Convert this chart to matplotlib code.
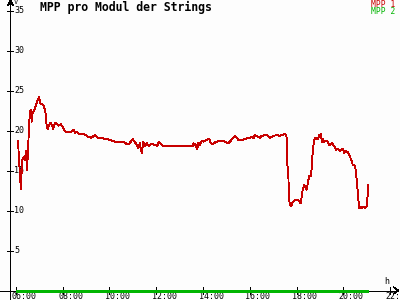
import matplotlib
matplotlib.use("Agg")
import matplotlib.pyplot as plt

title = "MPP pro Modul der Strings"
series_names = ["MPP 1", "MPP 2"]
x_tick_hours = [6, 8, 10, 12, 14, 16, 18, 20, 22]
x_tick_labels = ["06:00", "08:00", "10:00", "12:00", "14:00", "16:00", "18:00", "20:00", "22:"]
y_ticks = [5, 10, 15, 20, 25, 30, 35]

mpp1_hours = [6.10, 6.12, 6.14, 6.16, 6.18, 6.21, 6.24, 6.28, 6.33, 6.38, 6.44, 6.47, 6.51,
              6.56, 6.60, 6.64, 6.68, 6.72, 6.77, 6.82, 6.89, 6.96, 7.00, 7.04, 7.10, 7.18,
              7.25, 7.29, 7.32, 7.37, 7.43, 7.49, 7.55, 7.60, 7.68, 7.75, 7.82, 7.92, 8.02,
              8.10, 8.24, 8.35, 8.46, 8.53, 8.60, 8.68, 8.82, 8.96, 9.10, 9.24, 9.38, 9.53,
              9.67, 9.81, 9.95, 10.10, 10.24, 10.38, 10.52, 10.66, 10.74, 10.85, 10.95, 11.00,
              11.08, 11.17, 11.24, 11.30, 11.38, 11.45, 11.52, 11.60, 11.68, 11.80, 11.95,
              12.05, 12.12, 12.20, 12.30, 12.38, 13.52, 13.56, 13.60, 13.68, 13.76, 13.80,
              13.87, 13.94, 14.02, 14.16, 14.27, 14.32, 14.38, 14.45, 14.58, 14.72, 14.87,
              15.01, 15.08, 15.18, 15.30, 15.37, 15.44, 15.50, 15.72, 15.86, 16.00, 16.08,
              16.15, 16.22, 16.29, 16.43, 16.50, 16.72, 16.86, 17.00, 17.15, 17.29, 17.36,
              17.43, 17.50, 17.57, 17.60, 17.65, 17.67, 17.70, 17.76, 17.81, 17.86, 17.93,
              18.07, 18.12, 18.17, 18.22, 18.26, 18.32, 18.36, 18.43, 18.50, 18.54, 18.60,
              18.64, 18.69, 18.74, 18.79, 18.85, 18.90, 18.97, 19.00, 19.03, 19.08, 19.12,
              19.18, 19.26, 19.32, 19.40, 19.50, 19.60, 19.68, 19.78, 19.85, 19.92, 19.98,
              20.03, 20.10, 20.18, 20.28, 20.35, 20.40, 20.50, 20.54, 20.60, 20.64, 20.67,
              20.71, 20.78, 20.85, 20.92, 20.99, 21.03, 21.06]
mpp1_volts = [18.7, 17.2, 17.0, 15.1, 14.7, 12.7, 14.4, 16.3, 16.7, 16.3, 17.4, 15.1, 16.7,
              20.1, 22.2, 22.6, 21.1, 22.3, 22.4, 22.8, 23.4, 24.0, 24.2, 23.4, 23.3, 23.2,
              22.6, 21.75, 20.5, 20.2, 20.7, 21.0, 20.6, 20.2, 21.0, 20.8, 20.6, 20.8, 20.4,
              19.9, 19.8, 19.75, 20.1, 19.7, 19.8, 19.6, 19.6, 19.5, 19.2, 19.1, 19.45, 19.0,
              19.1, 18.9, 18.9, 18.75, 18.6, 18.5, 18.6, 18.5, 18.3, 18.35, 18.75, 18.9,
              18.6, 18.2, 17.8, 18.4, 17.2, 18.6, 18.0, 18.4, 18.1, 18.3, 18.2,
              18.1, 18.6, 18.3, 18.1, 18.1, 18.1, 18.0, 18.4, 18.2, 17.7, 18.5,
              18.2, 18.7, 18.6, 18.8, 19.0, 18.5, 18.3, 18.4, 18.6, 18.7, 18.7,
              18.5, 18.4, 18.7, 19.1, 19.3, 19.1, 18.85, 18.85, 19.0, 19.1, 19.2,
              19.0, 19.45, 19.3, 19.1, 19.3, 19.5, 19.05, 19.3, 19.45, 19.3, 19.45,
              19.5, 19.6, 19.2, 15.9, 14.25, 11.75, 11.0, 10.5, 10.9, 11.1, 11.3,
              11.35, 11.1, 10.9, 11.75, 12.6, 13.2, 13.0, 12.6, 13.8, 14.3, 14.3,
              15.1, 17.4, 18.6, 19.05, 19.05, 18.9, 19.45, 19.2, 19.6, 18.6, 18.9,
              18.6, 18.7, 18.6, 18.2, 18.4, 18.1, 17.6, 17.7, 17.4, 17.6, 17.7,
              17.2, 17.4, 17.3, 16.75, 16.2, 15.7, 15.6, 14.7, 12.8, 11.3, 10.3,
              10.5, 10.3, 10.5, 10.3, 10.5, 11.7, 13.2]
mpp2_hours = [6.0, 21.05]
mpp2_volts = [0.0, 0.0]

red = "#c80000"
green = "#00b400"

fig = plt.figure(figsize=(4, 3), dpi=100)
fig.patch.set_facecolor("#fdfdfd")
ax = fig.add_axes([0, 0, 1, 1])
ax.set_facecolor("#fdfdfd")
ax.axis("off")

PX_PER_H = 23.4
X0 = 15.8
PX_PER_V = 8.0
Y0 = 290.5

def hx(px):
    return 6 + (px - X0) / PX_PER_H

def vy(py):
    return (Y0 - py) / PX_PER_V

ax.set_xlim(hx(0), hx(400))
ax.set_ylim(vy(300), vy(0))

mono = "DejaVu Sans Mono"
LW = 0.55
kw = dict(color="black", lw=LW, antialiased=False, zorder=2)

# axes lines with arrows
yaxis_x = hx(10.5)
ax.plot([yaxis_x, yaxis_x], [vy(300), vy(1)], **kw)
ax.plot([yaxis_x, hx(8)], [vy(1), vy(5)], **kw)
ax.plot([yaxis_x, hx(13)], [vy(1), vy(5)], **kw)
ax.plot([hx(0), hx(398)], [0, 0], **kw)
ax.plot([hx(398), hx(394)], [0, vy(Y0 - 3)], **kw)
ax.plot([hx(398), hx(394)], [0, vy(Y0 + 3)], **kw)

# y ticks
for v in y_ticks:
    ax.plot([hx(7.5), hx(13.5)], [v, v], **kw)
    ax.text(hx(14), v, str(v), fontsize=6.0, family=mono, ha="left", va="center")
ax.text(hx(14), vy(2.5), "V", fontsize=5.0, family=mono, ha="left", va="center")

# x ticks
for h, lab in zip(x_tick_hours, x_tick_labels):
    ax.plot([h, h], [vy(Y0 - 3.5), vy(Y0 + 3.5)], **kw)
    ax.text(h - 4.5 / PX_PER_H, vy(292), lab, fontsize=6.0, family=mono,
            ha="left", va="top")
ax.text(hx(384), vy(281), "h", fontsize=6.0, family=mono, ha="left", va="center")

# data
ax.plot(mpp2_hours, mpp2_volts, color=green, lw=1.0, antialiased=False,
        solid_capstyle="butt", zorder=5)
ax.plot(mpp1_hours, mpp1_volts, color=red, lw=0.65, antialiased=False, zorder=4)

# title & legend
ax.text(hx(40), vy(7.5), title, fontsize=8.3, family=mono, weight="bold",
        ha="left", va="center")
ax.text(hx(395), vy(4.3), series_names[0], fontsize=5.8, family=mono, color=red,
        ha="right", va="center")
ax.text(hx(395), vy(11.8), series_names[1], fontsize=5.8, family=mono, color=green,
        ha="right", va="center")

fig.savefig("out.png", dpi=100, facecolor=fig.get_facecolor())
